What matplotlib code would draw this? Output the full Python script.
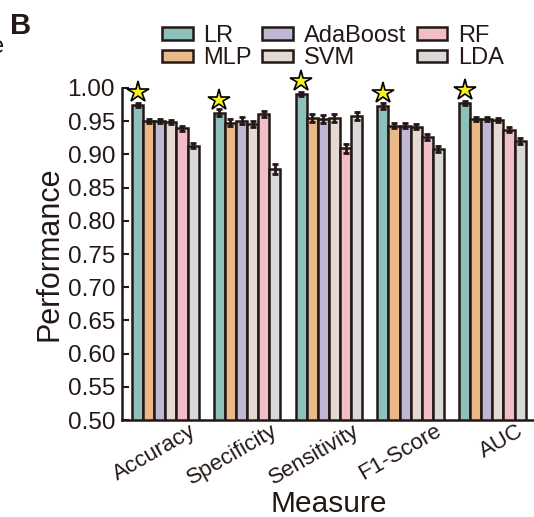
import numpy as np
import matplotlib
matplotlib.use("Agg")
import matplotlib.pyplot as plt
from matplotlib.transforms import ScaledTranslation

plt.rcParams['font.family'] = ['Liberation Sans', 'DejaVu Sans']

measures = ['Accuracy', 'Specificity', 'Sensitivity', 'F1-Score', 'AUC']
models = ['LR', 'MLP', 'AdaBoost', 'SVM', 'RF', 'LDA']
colors = ['#8ec1bc', '#eab98a', '#beb8d5', '#e5dad3', '#f1bdc8', '#d9d9d9']

# one list per model, one entry per measure
lr = [0.975, 0.963, 0.991, 0.973, 0.978]
mlp = [0.951, 0.948, 0.955, 0.943, 0.953]
ada = [0.950, 0.951, 0.953, 0.943, 0.953]
svm = [0.949, 0.946, 0.955, 0.942, 0.952]
rf = [0.939, 0.961, 0.909, 0.926, 0.937]
lda = [0.913, 0.878, 0.958, 0.908, 0.920]

lr_err = [0.003, 0.005, 0.003, 0.004, 0.003]
mlp_err = [0.003, 0.005, 0.006, 0.004, 0.003]
ada_err = [0.003, 0.005, 0.006, 0.004, 0.003]
svm_err = [0.003, 0.005, 0.006, 0.004, 0.003]
rf_err = [0.004, 0.005, 0.007, 0.004, 0.004]
lda_err = [0.004, 0.007, 0.006, 0.004, 0.004]

values = [lr, mlp, ada, svm, rf, lda]
errors = [lr_err, mlp_err, ada_err, svm_err, rf_err, lda_err]

dark = '#231815'

fig = plt.figure(figsize=(5.34, 5.17), dpi=100)
ax = fig.add_axes([0.2285, 0.1876, 0.7747, 0.6422])

x = np.arange(len(measures))
w = 0.136
for j, name in enumerate(models):
    pos = x + (j - 2.5) * w
    ax.bar(pos, values[j], w, bottom=0, color=colors[j], edgecolor=dark,
           linewidth=1.8, label=name, zorder=2)
    ax.errorbar(pos, values[j], yerr=errors[j], fmt='none', ecolor=dark,
                elinewidth=2, capsize=2.5, capthick=2, zorder=3)

# stars above the best model (LR) in every measure
ax.plot(x - 2.5 * w, np.array(lr) + 0.0195, linestyle='none', marker='*',
        markersize=16, markerfacecolor='#f5f020', markeredgecolor='black',
        markeredgewidth=1.2, clip_on=False, zorder=4)

ax.set_ylim(0.5, 1.0)
ax.set_xlim(-0.53, 4.53)
ax.set_yticks(np.arange(0.5, 1.001, 0.05))
ax.set_yticklabels(['%.2f' % t for t in np.arange(0.5, 1.001, 0.05)])
ax.set_xticks(x)
ax.set_xticklabels([])

# rotated measure names, shifted right of each group centre
shift = ax.get_xaxis_transform() + ScaledTranslation(0.24, -0.005, fig.dpi_scale_trans)
for xi, name in zip(x, measures):
    ax.text(xi, 0, name, transform=shift, rotation=30, rotation_mode='anchor',
            ha='right', va='top', fontsize=16, color=dark)

for s in ['top', 'right']:
    ax.spines[s].set_visible(False)
for s in ['left', 'bottom']:
    ax.spines[s].set_linewidth(1.8)
    ax.spines[s].set_color(dark)

ax.tick_params(axis='y', direction='in', length=5, width=1.5, color=dark,
               labelsize=17.5, labelcolor=dark, pad=5)
ax.tick_params(axis='x', length=0)

ax.set_ylabel('Performance', fontsize=22, color=dark, labelpad=2)
ax.set_xlabel('Measure', fontsize=21.5, color=dark, va='top')
ax.xaxis.set_label_coords(0.5, -0.21)

leg = fig.legend(loc='upper left', bbox_to_anchor=(162 / 534, 1 - 25 / 517),
                 ncol=3, frameon=False, fontsize=17, handlelength=1.3,
                 handleheight=0.45, handletextpad=0.45, columnspacing=0.45,
                 labelspacing=0.02, borderpad=0, borderaxespad=0)
for t in leg.get_texts():
    t.set_color(dark)

fig.text(10 / 534, 1 - 12 / 517, 'B', fontsize=21, fontweight='bold',
         color=dark, ha='left', va='top')
fig.text(-9 / 534, 1 - 53 / 517, 'e', fontsize=17, color=dark,
         ha='left', va='baseline')

fig.savefig('out.png', dpi=100)
